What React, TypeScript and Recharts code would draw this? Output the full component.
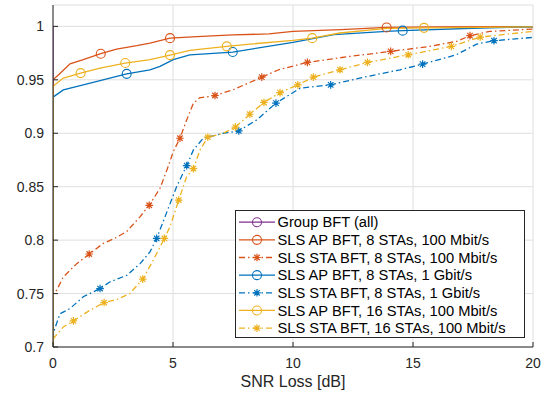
import React from 'react';
import { LineChart, Line, XAxis, YAxis, CartesianGrid, Legend } from 'recharts';

// CDF curves (x = SNR loss in dB, y = cumulative probability)
const groupX = [0, 0];
const groupY = [0, 1];

const ap8SlowX = [0, 0, 0.29, 0.71, 1.26, 1.99, 2.65, 3.49, 4.04, 4.875, 6, 7.5, 9, 10, 12, 13.9, 16, 20];
const ap8SlowY = [0, 0.95, 0.956, 0.965, 0.9688, 0.9744, 0.9788, 0.982, 0.9844, 0.989, 0.9905, 0.992, 0.993, 0.9953, 0.997, 0.999, 0.9995, 0.9997];
const ap8SlowMarks = [1.99, 4.875, 13.9];

const sta8SlowX = [0, 0, 0.15, 0.43, 0.99, 1.51, 2.1, 2.6, 3.07, 3.63, 4.01, 4.46, 4.8, 5.01, 5.29, 5.57, 5.85, 6.1, 6.75, 7.5, 8.7, 9.4, 10.6, 12.4, 14.07, 15.71, 16.82, 17.375, 18.2, 20];
const sta8SlowY = [0, 0.75, 0.753, 0.7656, 0.778, 0.787, 0.797, 0.802, 0.808, 0.822, 0.8326, 0.8485, 0.8688, 0.8828, 0.8953, 0.9125, 0.928, 0.933, 0.9353, 0.9406, 0.9525, 0.9594, 0.9663, 0.972, 0.9766, 0.9813, 0.986, 0.9913, 0.9953, 0.9975];
const sta8SlowMarks = [1.51, 4.01, 5.29, 6.75, 8.7, 10.6, 14.07, 17.375];

const ap8FastX = [0, 0, 0.43, 1.26, 3.07, 4.04, 4.46, 5.01, 5.7, 7.49, 10, 11.7, 13.9, 14.57, 17.8, 20];
const ap8FastY = [0, 0.9338, 0.9406, 0.9453, 0.9556, 0.9594, 0.9625, 0.9688, 0.9734, 0.976, 0.985, 0.9922, 0.9953, 0.996, 0.9985, 0.9994];
const ap8FastMarks = [3.07, 7.49, 14.57];

const sta8FastX = [0, 0, 0.05, 0.29, 0.71, 1.26, 1.96, 2.38, 3.07, 3.63, 4.04, 4.32, 4.67, 5.15, 5.57, 5.85, 6.26, 7.1, 7.74, 8.49, 9.29, 10.3, 11.57, 13.07, 14.46, 15.4, 16.8, 17.65, 18.375, 20];
const sta8FastY = [0, 0.714, 0.7156, 0.731, 0.736, 0.747, 0.7547, 0.761, 0.767, 0.778, 0.789, 0.8016, 0.822, 0.85, 0.8697, 0.8844, 0.8953, 0.9, 0.9022, 0.9125, 0.9282, 0.9422, 0.9453, 0.953, 0.9594, 0.9647, 0.9734, 0.9834, 0.9866, 0.9897];
const sta8FastMarks = [1.96, 4.32, 5.57, 7.74, 9.29, 11.57, 15.4, 18.375];

const ap16X = [0, 0, 0.43, 1.15, 1.96, 3.01, 4.04, 4.875, 5.7, 7.24, 8.2, 10, 10.8, 11.95, 13.9, 15.46, 20];
const ap16Y = [0, 0.944, 0.9516, 0.9563, 0.961, 0.9657, 0.9688, 0.9731, 0.9775, 0.9813, 0.9834, 0.9869, 0.989, 0.9938, 0.9982, 0.9986, 0.9995];
const ap16Marks = [1.15, 3.01, 4.875, 7.24, 10.8, 15.46];

const sta16X = [0, 0, 0.05, 0.43, 0.85, 1.54, 2.13, 2.65, 3.2, 3.74, 4.18, 4.64, 4.875, 5.24, 5.57, 5.85, 6.125, 6.45, 7.1, 7.6, 8.2, 8.79, 9.46, 10.2, 10.85, 11.96, 13.1, 14.8, 16.6, 17.8, 20];
const sta16Y = [0, 0.7063, 0.7088, 0.7188, 0.7244, 0.7344, 0.7416, 0.7444, 0.75, 0.7635, 0.7813, 0.8016, 0.8125, 0.8375, 0.8594, 0.8669, 0.8844, 0.8963, 0.9, 0.9057, 0.9178, 0.9288, 0.938, 0.9453, 0.9525, 0.9594, 0.9663, 0.9734, 0.9813, 0.99, 0.9953];
const sta16Marks = [0.85, 2.13, 3.74, 4.64, 5.24, 5.85, 6.45, 7.6, 8.2, 8.79, 9.46, 10.2, 10.85, 11.96, 13.1, 14.8, 16.6, 17.8];

const xTicks = [0, 5, 10, 15, 20];
const yTicks = [0.7, 0.75, 0.8, 0.85, 0.9, 0.95, 1];

const PURPLE = '#7E2F8E';
const ORANGE = '#D95319';
const BLUE = '#0072BD';
const YELLOW = '#EDB120';
const INK = '#262626';

const toPoints = (xs: number[], ys: number[], marks: number[]) =>
  xs.map((x, i) => ({ x, y: ys[i], m: i > 0 && marks.includes(x) }));

const series = [
  { name: 'Group BFT (all)', color: PURPLE, dashed: false, marker: 'o', data: toPoints(groupX, groupY, []) },
  { name: 'SLS AP BFT, 8 STAs, 100 Mbit/s', color: ORANGE, dashed: false, marker: 'o', data: toPoints(ap8SlowX, ap8SlowY, ap8SlowMarks) },
  { name: 'SLS STA BFT, 8 STAs, 100 Mbit/s', color: ORANGE, dashed: true, marker: '*', data: toPoints(sta8SlowX, sta8SlowY, sta8SlowMarks) },
  { name: 'SLS AP BFT, 8 STAs, 1 Gbit/s', color: BLUE, dashed: false, marker: 'o', data: toPoints(ap8FastX, ap8FastY, ap8FastMarks) },
  { name: 'SLS STA BFT, 8 STAs, 1 Gbit/s', color: BLUE, dashed: true, marker: '*', data: toPoints(sta8FastX, sta8FastY, sta8FastMarks) },
  { name: 'SLS AP BFT, 16 STAs, 100 Mbit/s', color: YELLOW, dashed: false, marker: 'o', data: toPoints(ap16X, ap16Y, ap16Marks) },
  { name: 'SLS STA BFT, 16 STAs, 100 Mbit/s', color: YELLOW, dashed: true, marker: '*', data: toPoints(sta16X, sta16Y, sta16Marks) },
];

const DASH_DOT = '6 3 1.5 3';

function Marker({ kind, cx, cy, color }: { kind: string; cx: number; cy: number; color: string }) {
  if (kind === 'o') {
    return <circle cx={cx} cy={cy} r={4.5} fill="none" stroke={color} strokeWidth={1.1} />;
  }
  const r = 3.8;
  const d = r * 0.72;
  return (
    <path
      d={`M${cx - r},${cy}H${cx + r}M${cx},${cy - r}V${cy + r}M${cx - d},${cy - d}L${cx + d},${cy + d}M${cx - d},${cy + d}L${cx + d},${cy - d}`}
      stroke={color}
      strokeWidth={1.2}
      fill="none"
    />
  );
}

const makeDot = (kind: string, color: string, id: string) => (props: any) => {
  const { cx, cy, payload, index } = props;
  if (!payload || !payload.m || cx == null || cy == null) return <g key={`${id}-${index}`} />;
  return (
    <g key={`${id}-${index}`}>
      <Marker kind={kind} cx={cx} cy={cy} color={color} />
    </g>
  );
};

function LegendBox() {
  const w = 289;
  const h = 127;
  return (
    <svg width={w + 2} height={h + 2} style={{ display: 'block' }}>
      <rect x={0.5} y={0.5} width={w} height={h} fill="#fff" stroke={INK} strokeWidth={1} />
      {series.map((s, i) => {
        const y = 12.2 + i * 17.65;
        return (
          <g key={s.name}>
            <line x1={4} x2={40} y1={y} y2={y} stroke={s.color} strokeWidth={1.3} strokeDasharray={s.dashed ? DASH_DOT : undefined} />
            <Marker kind={s.marker} cx={22} cy={y} color={s.color} />
            <text x={42.5} y={y + 5.2} fontSize={14.7} fill="#000">
              {s.name}
            </text>
          </g>
        );
      })}
    </svg>
  );
}

export default function App() {
  return (
    <div style={{ position: 'absolute', left: 0, top: 0, width: 548, height: 394, background: '#fff', fontFamily: '"Liberation Sans", Arial, sans-serif' }}>
      <LineChart width={548} height={394} margin={{ top: 5, right: 15, bottom: 0, left: 0 }}>
        <CartesianGrid stroke="#dfdfdf" strokeWidth={1} />
        <XAxis
          dataKey="x"
          type="number"
          domain={[0, 20]}
          ticks={xTicks}
          allowDataOverflow
          height={47}
          tickSize={-5}
          tickMargin={16}
          stroke={INK}
          tick={{ fill: INK, fontSize: 14 }}
          label={{ value: 'SNR Loss [dB]', position: 'insideBottom', offset: 7, fill: INK, fontSize: 16 }}
        />
        <XAxis xAxisId="top" orientation="top" type="number" domain={[0, 20]} ticks={xTicks} allowDataOverflow height={0} tickSize={-5} tick={false} stroke={INK} />
        <YAxis
          type="number"
          domain={[0.7, 1.02]}
          ticks={yTicks}
          allowDataOverflow
          width={53}
          tickSize={-5}
          tickMargin={14}
          stroke={INK}
          tick={{ fill: INK, fontSize: 14 }}
        />
        <YAxis yAxisId="right" orientation="right" type="number" domain={[0.7, 1.02]} ticks={yTicks} allowDataOverflow width={0} tickSize={-5} tick={false} stroke={INK} />
        {series.map((s, i) => (
          <Line
            key={s.name}
            data={s.data}
            dataKey="y"
            type="linear"
            stroke={s.color}
            strokeWidth={1.3}
            strokeDasharray={s.dashed ? DASH_DOT : undefined}
            dot={makeDot(s.marker, s.color, `s${i}`)}
            activeDot={false}
            isAnimationActive={false}
            legendType="none"
          />
        ))}
        <Legend
          layout="vertical"
          align="center"
          verticalAlign="middle"
          content={() => <LegendBox />}
          wrapperStyle={{ left: 235, top: 210, width: 291, height: 129 }}
        />
      </LineChart>
    </div>
  );
}
